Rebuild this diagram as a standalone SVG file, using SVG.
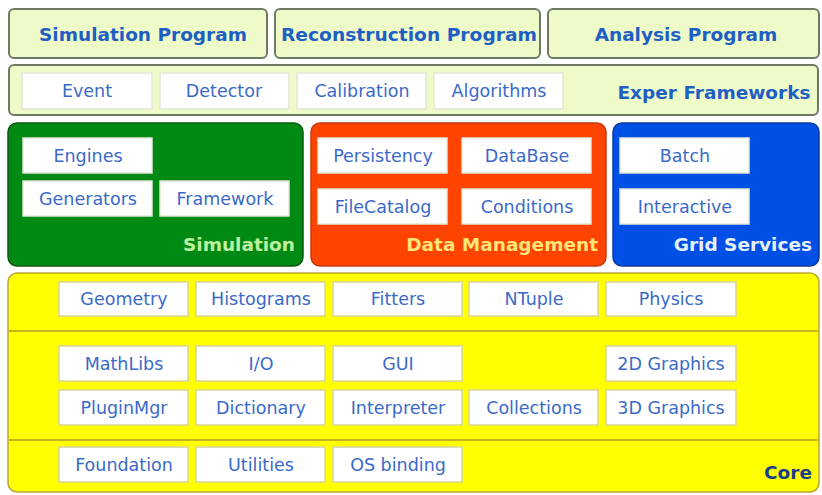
<svg xmlns="http://www.w3.org/2000/svg" width="822" height="495" viewBox="0 0 822 495">
  <style>
    .app { fill: #eefbc9; stroke: #6f7a66; stroke-width: 2; }
    .box { fill: #ffffff; stroke: #e4e6d6; stroke-width: 1.5; }
    .boxc { fill: #ffffff; stroke: #d8d49a; stroke-width: 1.5; }
    .head { font-family: "DejaVu Sans", "Liberation Sans", sans-serif; font-weight: bold; font-size: 18.5px; fill: #1f5fc4; text-anchor: middle; }
    .lbl { font-family: "DejaVu Sans", "Liberation Sans", sans-serif; font-size: 17.5px; fill: #3a6ac8; text-anchor: middle; }
    .sec { font-family: "DejaVu Sans", "Liberation Sans", sans-serif; font-weight: bold; font-size: 18.5px; text-anchor: end; }
    .div { stroke: #b59a2a; stroke-width: 1.5; }
  </style>

  <rect width="822" height="495" fill="#ffffff"/>

  <!-- Applications -->
  <g id="simulation-program">
    <rect class="app" x="9" y="9" width="258" height="49" rx="5"/>
    <text class="head" x="143" y="41">Simulation Program</text>
  </g>
  <g id="reconstruction-program">
    <rect class="app" x="275" y="9" width="265" height="49" rx="5"/>
    <text class="head" x="409" y="41" textLength="256" lengthAdjust="spacingAndGlyphs">Reconstruction Program</text>
  </g>
  <g id="analysis-program">
    <rect class="app" x="548" y="9" width="271" height="49" rx="5"/>
    <text class="head" x="686" y="41">Analysis Program</text>
  </g>

  <!-- Experiment frameworks -->
  <g id="exper-frameworks">
    <rect class="app" x="9" y="65" width="809" height="50" rx="5"/>
    <rect class="box" x="22" y="73" width="130" height="36"/>
    <text class="lbl" x="87" y="97">Event</text>
    <rect class="box" x="160" y="73" width="129" height="36"/>
    <text class="lbl" x="224" y="97">Detector</text>
    <rect class="box" x="297" y="73" width="129" height="36"/>
    <text class="lbl" x="362" y="97">Calibration</text>
    <rect class="box" x="434" y="73" width="129" height="36"/>
    <text class="lbl" x="499" y="97">Algorithms</text>
    <text class="head" x="714" y="99" font-size="19.5">Exper Frameworks</text>
  </g>

  <!-- Simulation -->
  <g id="simulation">
    <rect x="8" y="123" width="295" height="143" rx="9" fill="#008a14" stroke="#0a5a10" stroke-width="1.5"/>
    <rect class="box" x="23" y="138" width="129" height="35"/>
    <text class="lbl" x="88" y="162">Engines</text>
    <rect class="box" x="23" y="181" width="129" height="35"/>
    <text class="lbl" x="88" y="205">Generators</text>
    <rect class="box" x="160" y="181" width="129" height="35"/>
    <text class="lbl" x="225" y="205">Framework</text>
    <text class="sec" x="295" y="251" fill="#bdf2a0">Simulation</text>
  </g>

  <!-- Data management -->
  <g id="data-management">
    <rect x="311" y="123" width="295" height="143" rx="9" fill="#ff4300" stroke="#c83a10" stroke-width="1.5"/>
    <rect class="box" x="318" y="138" width="129" height="35"/>
    <text class="lbl" x="383" y="162">Persistency</text>
    <rect class="box" x="462" y="138" width="129" height="35"/>
    <text class="lbl" x="527" y="162">DataBase</text>
    <rect class="box" x="318" y="189" width="129" height="35"/>
    <text class="lbl" x="383" y="213">FileCatalog</text>
    <rect class="box" x="462" y="189" width="129" height="35"/>
    <text class="lbl" x="527" y="213">Conditions</text>
    <text class="sec" x="598" y="251" fill="#ffe57a">Data Management</text>
  </g>

  <!-- Grid services -->
  <g id="grid-services">
    <rect x="613" y="123" width="206" height="143" rx="9" fill="#0050e6" stroke="#0a3aa0" stroke-width="1.5"/>
    <rect class="box" x="620" y="138" width="129" height="35"/>
    <text class="lbl" x="685" y="162">Batch</text>
    <rect class="box" x="620" y="189" width="129" height="35"/>
    <text class="lbl" x="685" y="213">Interactive</text>
    <text class="sec" x="812" y="251" fill="#e6f0ff">Grid Services</text>
  </g>

  <!-- Core -->
  <g id="core">
    <rect x="8" y="273" width="811" height="219" rx="9" fill="#ffff00" stroke="#b8a83a" stroke-width="1.5"/>
    <line class="div" x1="9" y1="331" x2="818" y2="331"/>
    <line class="div" x1="9" y1="440" x2="818" y2="440"/>

    <rect class="boxc" x="59" y="282" width="129" height="34"/>
    <text class="lbl" x="124" y="305">Geometry</text>
    <rect class="boxc" x="196" y="282" width="129" height="34"/>
    <text class="lbl" x="261" y="305">Histograms</text>
    <rect class="boxc" x="333" y="282" width="129" height="34"/>
    <text class="lbl" x="398" y="305">Fitters</text>
    <rect class="boxc" x="469" y="282" width="129" height="34"/>
    <text class="lbl" x="534" y="305">NTuple</text>
    <rect class="boxc" x="606" y="282" width="130" height="34"/>
    <text class="lbl" x="671" y="305">Physics</text>

    <rect class="boxc" x="59" y="346" width="129" height="35"/>
    <text class="lbl" x="124" y="370">MathLibs</text>
    <rect class="boxc" x="196" y="346" width="129" height="35"/>
    <text class="lbl" x="261" y="370">I/O</text>
    <rect class="boxc" x="333" y="346" width="129" height="35"/>
    <text class="lbl" x="398" y="370">GUI</text>
    <rect class="boxc" x="606" y="346" width="130" height="35"/>
    <text class="lbl" x="671" y="370">2D Graphics</text>

    <rect class="boxc" x="59" y="390" width="129" height="35"/>
    <text class="lbl" x="124" y="414">PluginMgr</text>
    <rect class="boxc" x="196" y="390" width="129" height="35"/>
    <text class="lbl" x="261" y="414">Dictionary</text>
    <rect class="boxc" x="333" y="390" width="129" height="35"/>
    <text class="lbl" x="398" y="414">Interpreter</text>
    <rect class="boxc" x="469" y="390" width="129" height="35"/>
    <text class="lbl" x="534" y="414">Collections</text>
    <rect class="boxc" x="606" y="390" width="130" height="35"/>
    <text class="lbl" x="671" y="414">3D Graphics</text>

    <rect class="boxc" x="59" y="447" width="129" height="35"/>
    <text class="lbl" x="124" y="471">Foundation</text>
    <rect class="boxc" x="196" y="447" width="129" height="35"/>
    <text class="lbl" x="261" y="471">Utilities</text>
    <rect class="boxc" x="333" y="447" width="129" height="35"/>
    <text class="lbl" x="398" y="471">OS binding</text>

    <text class="sec" x="812" y="479" fill="#1a3f8a" font-size="22">Core</text>
  </g>
</svg>
